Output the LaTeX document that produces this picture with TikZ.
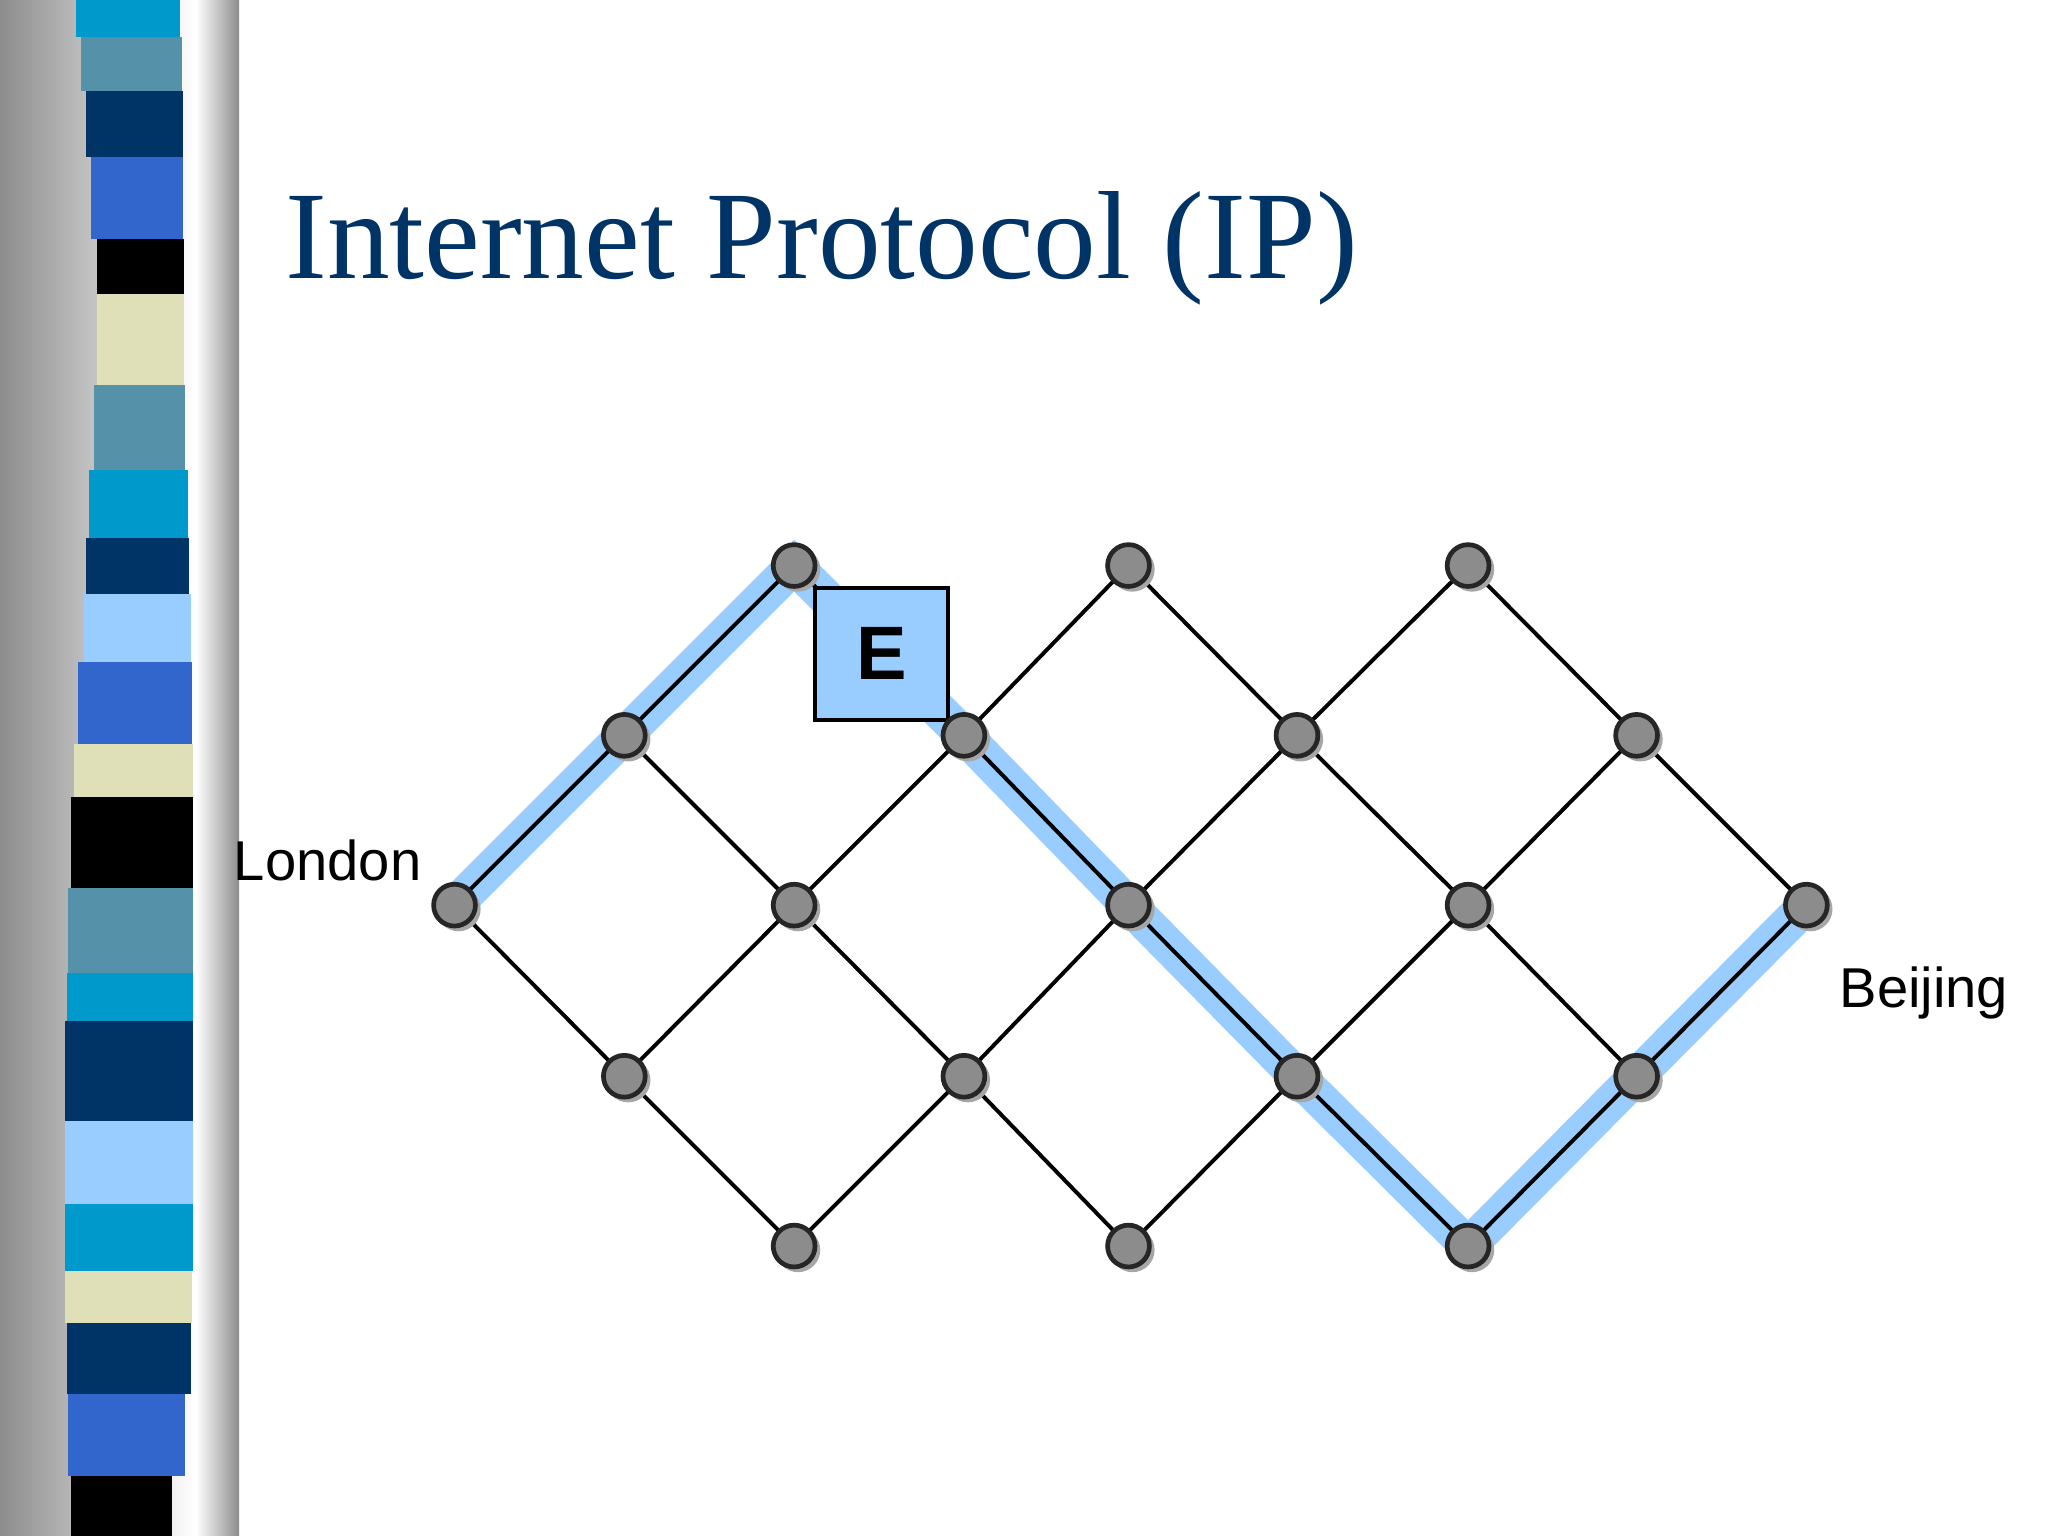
\documentclass[tikz,border=0pt]{standalone}
\usepackage{fontspec}
\usetikzlibrary{calc}
\setmainfont{Liberation Serif}
\setsansfont{Liberation Sans}
\begin{document}
\begin{tikzpicture}[x=0.5pt,y=-0.5pt,
  router/.style={circle,draw=black!85,line width=1.8pt,fill=black!45,minimum size=16pt,inner sep=0pt},
  link/.style={line width=1.5pt,black},
  band/.style={line width=14pt,color=hl,line join=miter},
  lbl/.style={font=\sffamily\fontsize{21.5}{26}\selectfont,inner sep=0pt}]
\definecolor{hl}{HTML}{99CCFF}
\definecolor{navy}{HTML}{003366}
\definecolor{teal}{HTML}{5592AA}
\definecolor{cyanb}{HTML}{0099CC}
\definecolor{blueb}{HTML}{3366CC}
\definecolor{beige}{HTML}{E0E0B8}
\useasboundingbox (0,0) rectangle (1568,1176);
\fill[white] (0,0) rectangle (1568,1176);
% left strip background
\shade[left color=black!45,right color=white] (0,0) rectangle (150,1176);
\shade[left color=white,right color=black!45] (150,0) rectangle (183,1176);
% bands
\foreach \ya/\yb/\c/\xl/\xr in {0/28/cyanb/58/138,28/70/teal/62/139,70/120/navy/66/140,120/183/blueb/70/140,183/225/black/74/141,225/295/beige/74/141,295/360/teal/72/142,360/412/cyanb/68/144,412/455/navy/66/145,455/507/hl/64/146,507/570/blueb/60/147,570/610/beige/57/148,610/680/black/54/148,680/745/teal/52/148,745/782/cyanb/51/148,782/858/navy/50/148,858/922/hl/50/148,922/973/cyanb/50/148,973/1013/beige/50/147,1013/1067/navy/51/146,1067/1130/blueb/52/142,1130/1176/black/54/132}
  \fill[\c] (\xl,\ya) rectangle (\xr,\yb);
% title
\node[anchor=base west,inner sep=0pt,text=navy] (title) at (218,213)
  {\fontsize{48}{56}\selectfont Internet Protocol (IP)};
% coordinates
\def\xs{{348,478,608,738,864,993,1124,1253,1383}}
\def\ys{{433,563,693,824,954}}
\foreach \i/\j in {2/0,4/0,6/0,1/1,3/1,5/1,7/1,0/2,2/2,4/2,6/2,8/2,1/3,3/3,5/3,7/3,2/4,4/4,6/4}{
  \pgfmathsetmacro\px{\xs[\i]}\pgfmathsetmacro\py{\ys[\j]}
  \coordinate (c\i\j) at (\px,\py);}
% highlighted route
\draw[band] (c02) -- (c11) -- (c20) -- (c31) -- (c42) -- (c53) -- (c64) -- (c73) -- (c82);
% links
\foreach \a/\b in {20/31,40/51,60/71,11/22,31/42,51/62,71/82,02/13,22/33,42/53,62/73,13/24,33/44,53/64,
  11/20,31/40,51/60,02/11,22/31,42/51,62/71,13/22,33/42,53/62,73/82,24/33,44/53,64/73}
  \draw[link] (c\a) -- (c\b);
% box E
\node[draw=black,line width=1.5pt,fill=hl,minimum width=51pt,minimum height=50.5pt,inner sep=0pt,
  font=\sffamily\bfseries\fontsize{29}{34}\selectfont] (E) at (675,500.5) {E};
% routers
\foreach \n in {20,40,60,11,31,51,71,02,22,42,62,82,13,33,53,73,24,44,64}{
  \fill[black!35] ($(c\n)+(3,3)$) circle (8.5pt);
  \node[router] (r\n) at (c\n) {};}
% labels
\node[lbl,anchor=base east] (london) at (323,674) {London};
\node[lbl,anchor=base west] (beijing) at (1408,771) {Beijing};
\end{tikzpicture}
\end{document}
